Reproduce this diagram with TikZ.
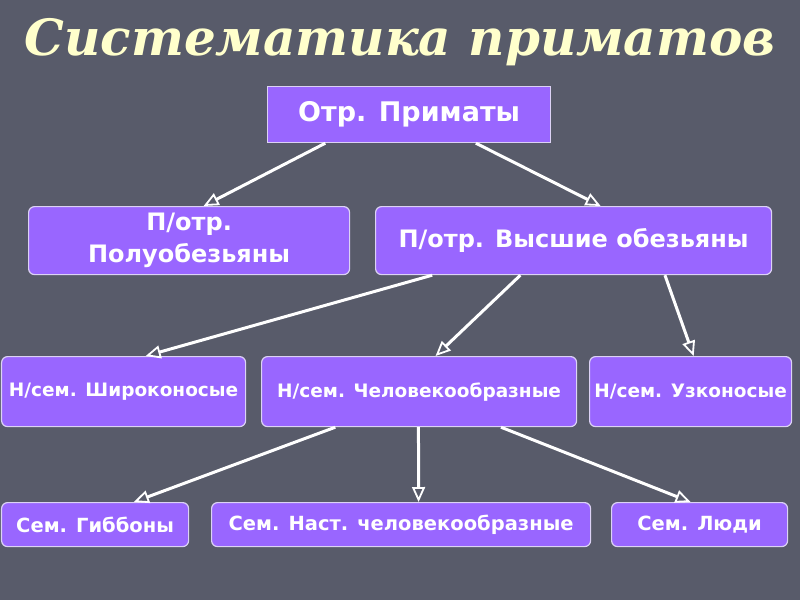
\documentclass[tikz,border=0pt]{standalone}
\usepackage{fontspec}
\setmainfont{DejaVu Sans}
\newfontfamily\titlefont{DejaVu Serif}
\usetikzlibrary{arrows.meta,calc}
\definecolor{bgcol}{RGB}{88,91,106}
\definecolor{boxcol}{RGB}{153,102,255}
\definecolor{boxline}{RGB}{220,210,245}
\definecolor{titlecol}{RGB}{255,255,204}
\tikzset{
  pbox/.style={draw=boxline, line width=1.2, fill=boxcol, text=white, rounded corners=6,
    font=\bfseries, align=center, inner sep=0, anchor=north west},
  conn/.style={draw=white, line width=3, -{Triangle[open, length=15, width=13, line width=1.8]}},
  rowa/.style={font=\bfseries\fontsize{27}{32}\selectfont},
  rowb/.style={font=\bfseries\fontsize{24}{32}\selectfont},
  rowc/.style={font=\bfseries\fontsize{18.5}{22}\selectfont},
  rowd/.style={font=\bfseries\fontsize{19.5}{23}\selectfont},
}
\begin{document}
\begin{tikzpicture}[x=1pt,y=-1pt]
\fill[bgcol] (0,0) rectangle (800,600);
\useasboundingbox (0,0) rectangle (800,600);
\node[text=titlecol, font={\titlefont\bfseries\itshape\fontsize{50}{56}\selectfont}] (title) at (400,42) {Систематика приматов};
\node[pbox, rowa, rounded corners=0, minimum width=283, minimum height=56] (top) at (267,86) {Отр. Приматы};
\node[pbox, rowb, minimum width=321, minimum height=68] (pol) at (28,206) {П/отр.\\Полуобезьяны};
\node[pbox, rowb, minimum width=396, minimum height=68] (vys) at (375,206) {П/отр. Высшие обезьяны};
\node[pbox, rowc, minimum width=244, minimum height=70] (shir) at (1,356) {Н/сем. Широконосые};
\node[pbox, rowc, minimum width=315, minimum height=70] (chel) at (261,356) {Н/сем. Человекообразные};
\node[pbox, rowc, minimum width=202, minimum height=70] (uzk) at (589,356) {Н/сем. Узконосые};
\node[pbox, rowd, minimum width=187, minimum height=44] (gib) at (1,502) {Сем. Гиббоны};
\node[pbox, rowd, minimum width=379, minimum height=44] (nast) at (211,502) {Сем. Наст. человекообразные};
\node[pbox, rowd, minimum width=176, minimum height=44] (lyudi) at (611,502) {Сем. Люди};
\draw[conn] ($(top.south west)!0.205!(top.south east)$) -- ($(pol.north west)!0.545!(pol.north east)$);
\draw[conn] ($(top.south west)!0.735!(top.south east)$) -- ($(vys.north west)!0.568!(vys.north east)$);
\draw[conn] ($(vys.south west)!0.144!(vys.south east)$) -- ($(shir.north west)!0.59!(shir.north east)$);
\draw[conn] ($(vys.south west)!0.366!(vys.south east)$) -- ($(chel.north west)!0.552!(chel.north east)$);
\draw[conn] ($(vys.south west)!0.730!(vys.south east)$) -- ($(uzk.north west)!0.515!(uzk.north east)$);
\draw[conn] ($(chel.south west)!0.235!(chel.south east)$) -- ($(gib.north west)!0.706!(gib.north east)$);
\draw[conn] ($(chel.south west)!0.498!(chel.south east)$) -- ($(nast.north west)!0.546!(nast.north east)$);
\draw[conn] ($(chel.south west)!0.759!(chel.south east)$) -- ($(lyudi.north west)!0.449!(lyudi.north east)$);
\end{tikzpicture}
\end{document}
